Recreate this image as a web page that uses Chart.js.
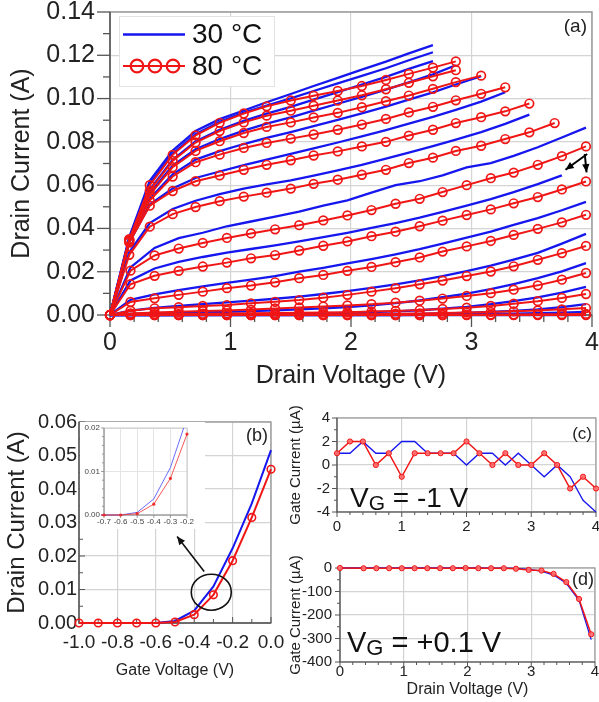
<!DOCTYPE html>
<html><head><meta charset="utf-8">
<script src="https://cdn.jsdelivr.net/npm/chart.js@4.4.1/dist/chart.umd.min.js"></script>
<style>
html,body{margin:0;padding:0;background:#fff;}
#wrap{position:relative;width:599px;height:702px;overflow:hidden;background:#fff;}
canvas{position:absolute;}
</style></head><body>
<div id="wrap">
<canvas id="ca" width="599" height="392" style="left:0;top:0"></canvas>
<canvas id="cb" width="300" height="310" style="left:0;top:392px"></canvas>
<canvas id="cc" width="319" height="145" style="left:280px;top:392px"></canvas>
<canvas id="cd" width="319" height="165" style="left:280px;top:537px"></canvas>
<canvas id="ci" width="125" height="107" style="left:80px;top:422px;background:#fff"></canvas>
</div>
<script>
// ---------------- DATA ----------------
// Panel (a): drain voltage grids (V)
const vdHigh = [0, 0.16, 0.33, 0.52, 0.71, 0.91, 1.11, 1.30, 1.50, 1.69, 1.89, 2.09, 2.29, 2.48, 2.68, 2.87, 3.08, 3.28, 3.48, 3.69];
const vdLow  = [0, 0.17, 0.37, 0.57, 0.77, 0.97, 1.17, 1.37, 1.57, 1.77, 1.97, 2.17, 2.37, 2.57, 2.76, 2.96, 3.16, 3.35, 3.55, 3.75, 3.95];
// 80 °C drain currents (A)
const red1 = [0, 0.0350, 0.0600, 0.0740, 0.0830, 0.0888, 0.0931, 0.0964, 0.0991, 0.1013, 0.1035, 0.1058, 0.1086, 0.1114, 0.1143, 0.1172];
const red2 = [0, 0.0348, 0.0575, 0.0712, 0.0797, 0.0850, 0.0890, 0.0921, 0.0944, 0.0967, 0.0991, 0.1015, 0.1043, 0.1073, 0.1103, 0.1131];
const red3 = [0, 0.0345, 0.0555, 0.0683, 0.0758, 0.0803, 0.0841, 0.0869, 0.0890, 0.0913, 0.0934, 0.0960, 0.0988, 0.1014, 0.1045, 0.1076, 0.1106];
const red4 = [0, 0.0340, 0.0530, 0.0640, 0.0706, 0.0741, 0.0772, 0.0795, 0.0815, 0.0834, 0.0856, 0.0880, 0.0906, 0.0936, 0.0962, 0.0992, 0.1022, 0.1052];
const red5 = [0, 0.0335, 0.0505, 0.0573, 0.0618, 0.0645, 0.0671, 0.0694, 0.0715, 0.0737, 0.0756, 0.0779, 0.0800, 0.0829, 0.0856, 0.0887, 0.0914, 0.0941, 0.0977];
const red6 = [0, 0.0278, 0.0408, 0.0466, 0.0499, 0.0526, 0.0547, 0.0565, 0.0584, 0.0606, 0.0625, 0.0648, 0.0671, 0.0702, 0.0727, 0.0758, 0.0782, 0.0813, 0.0844, 0.0887];
const red7 = [0, 0.0205, 0.0275, 0.0307, 0.0333, 0.0356, 0.0377, 0.0396, 0.0415, 0.0437, 0.0460, 0.0485, 0.0514, 0.0537, 0.0568, 0.0600, 0.0632, 0.0658, 0.0694, 0.0734, 0.0779];
const red8 = [0, 0.0142, 0.0181, 0.0204, 0.0224, 0.0242, 0.0262, 0.0277, 0.0298, 0.0320, 0.0340, 0.0364, 0.0385, 0.0410, 0.0436, 0.0462, 0.0488, 0.0516, 0.0545, 0.0580, 0.0617];
const red9 = [0, 0.0060, 0.0077, 0.0093, 0.0108, 0.0124, 0.0136, 0.0151, 0.0170, 0.0185, 0.0204, 0.0222, 0.0244, 0.0266, 0.0293, 0.0317, 0.0342, 0.0370, 0.0398, 0.0428, 0.0463];
const red10 = [0, 0.0020, 0.0031, 0.0036, 0.0042, 0.0046, 0.0054, 0.0061, 0.0069, 0.0080, 0.0093, 0.0108, 0.0124, 0.0142, 0.0159, 0.0180, 0.0201, 0.0225, 0.0255, 0.0286, 0.0319];
const red11 = [0, 0.0007, 0.0012, 0.0015, 0.0018, 0.0021, 0.0025, 0.0030, 0.0035, 0.0039, 0.0044, 0.0050, 0.0057, 0.0066, 0.0076, 0.0088, 0.0101, 0.0117, 0.0137, 0.0163, 0.0194];
const red12 = [0, 0.0002, 0.0004, 0.0005, 0.0006, 0.0007, 0.0008, 0.0009, 0.0010, 0.0012, 0.0013, 0.0016, 0.0019, 0.0023, 0.0028, 0.0034, 0.0042, 0.0052, 0.0064, 0.0079, 0.0097];
const red13 = [0, 0.0001, 0.0001, 0.0001, 0.0001, 0.0002, 0.0002, 0.0002, 0.0003, 0.0003, 0.0004, 0.0005, 0.0006, 0.0007, 0.0009, 0.0011, 0.0014, 0.0017, 0.0021, 0.0026, 0.0032];
const red14 = [0, 0, 0, 0, 0, 0, 0, 0, 0, 0, 0, 0, 0, 0, 0, 0.0001, 0.0002, 0.0002, 0.0003, 0.0004, 0.0005];
const red15 = [0, 0, 0, 0, 0, 0, 0, 0, 0, 0, 0, 0, 0, 0, 0, 0, 0, 0, 0, 0, 0];
// 30 °C drain currents (A)
const blue1 = [0, 0.0360, 0.0620, 0.0760, 0.0850, 0.0905, 0.0945, 0.0983, 0.1021, 0.1058, 0.1096, 0.1134, 0.1171, 0.1209, 0.1247];
const blue2 = [0, 0.0355, 0.0605, 0.0745, 0.0835, 0.0893, 0.0935, 0.0968, 0.1001, 0.1035, 0.1070, 0.1105, 0.1140, 0.1177, 0.1214];
const blue3 = [0, 0.0350, 0.0580, 0.0717, 0.0802, 0.0856, 0.0897, 0.0930, 0.0962, 0.0995, 0.1030, 0.1065, 0.1100, 0.1137, 0.1173];
const blue4 = [0, 0.0345, 0.0562, 0.0690, 0.0766, 0.0813, 0.0852, 0.0884, 0.0913, 0.0944, 0.0976, 0.1008, 0.1041, 0.1075, 0.1112, 0.1154];
const blue5 = [0, 0.0340, 0.0538, 0.0650, 0.0718, 0.0757, 0.0790, 0.0818, 0.0845, 0.0873, 0.0902, 0.0932, 0.0963, 0.0995, 0.1029, 0.1065, 0.1103];
const blue6 = [0, 0.0335, 0.0510, 0.0585, 0.0633, 0.0663, 0.0692, 0.0718, 0.0744, 0.0770, 0.0797, 0.0825, 0.0854, 0.0884, 0.0915, 0.0948, 0.0986, 0.1029];
const blue7 = [0, 0.0290, 0.0425, 0.0490, 0.0528, 0.0558, 0.0584, 0.0604, 0.0622, 0.0644, 0.0668, 0.0694, 0.0722, 0.0750, 0.0780, 0.0810, 0.0845, 0.0883, 0.0926];
const blue8 = [0, 0.0220, 0.0310, 0.0355, 0.0380, 0.0410, 0.0432, 0.0455, 0.0478, 0.0505, 0.0530, 0.0565, 0.0600, 0.0618, 0.0645, 0.0682, 0.0702, 0.0735, 0.0775, 0.0820, 0.0866];
const blue9 = [0, 0.0160, 0.0215, 0.0245, 0.0268, 0.0288, 0.0305, 0.0322, 0.0340, 0.0360, 0.0380, 0.0402, 0.0425, 0.0450, 0.0477, 0.0505, 0.0535, 0.0568, 0.0605, 0.0645];
const blue10 = [0, 0.0070, 0.0095, 0.0115, 0.0132, 0.0148, 0.0163, 0.0180, 0.0200, 0.0218, 0.0238, 0.0258, 0.0280, 0.0304, 0.0330, 0.0358, 0.0385, 0.0416, 0.0448, 0.0484, 0.0523];
const blue11 = [0, 0.0020, 0.0033, 0.0042, 0.0050, 0.0058, 0.0066, 0.0075, 0.0085, 0.0097, 0.0110, 0.0125, 0.0142, 0.0160, 0.0180, 0.0203, 0.0228, 0.0256, 0.0287, 0.0330, 0.0375];
const blue12 = [0, 0.0005, 0.0008, 0.0010, 0.0012, 0.0015, 0.0018, 0.0022, 0.0026, 0.0031, 0.0037, 0.0045, 0.0055, 0.0067, 0.0082, 0.0099, 0.0119, 0.0143, 0.0170, 0.0202, 0.0240];
const blue13 = [0, 0.0001, 0.0002, 0.0002, 0.0003, 0.0003, 0.0004, 0.0005, 0.0006, 0.0008, 0.0010, 0.0013, 0.0017, 0.0022, 0.0029, 0.0038, 0.0050, 0.0064, 0.0081, 0.0103, 0.0130];
const blue14 = [0, 0, 0, 0, 0.0001, 0.0001, 0.0001, 0.0001, 0.0001, 0.0002, 0.0002, 0.0003, 0.0004, 0.0005, 0.0007, 0.0010, 0.0014, 0.0019, 0.0026, 0.0036, 0.0050];
const blue15 = [0, 0, 0, 0, 0, 0, 0, 0, 0, 0, 0, 0, 0, 0.0001, 0.0002, 0.0003, 0.0004, 0.0006, 0.0008, 0.0011, 0.0014];
const blue16 = [0, 0, 0, 0, 0, 0, 0, 0, 0, 0, 0, 0, 0, 0, 0, 0, 0, 0, 0, 0, 0];
const legendLabels = ['30 °C', '80 °C'];
// annotation arrows in panel (a): [x1, y1, x2, y2] in data units
const arrowsA = [[3.96, 0.0744, 3.78, 0.0671], [3.94, 0.0744, 3.955, 0.0659]];

// Panel (b): transfer curve
const vgB = [-1.0, -0.9, -0.8, -0.7, -0.6, -0.5, -0.4, -0.3, -0.2, -0.1, 0.0];
const blueB = [0, 0, 0, 0, 0, 0.0006, 0.0037, 0.0109, 0.0223, 0.0357, 0.0516];
const redB  = [0, 0, 0, 0, 0, 0.0003, 0.0025, 0.0084, 0.0186, 0.0315, 0.0459];
const circleB = [-0.311, 0.0092];
const arrowB = [-0.348, 0.0154, -0.489, 0.0258];

// Panel (c): gate current at VG = -1 V (µA)
const vdC = [0, 0.2, 0.4, 0.6, 0.8, 1.0, 1.2, 1.4, 1.6, 1.8, 2.0, 2.2, 2.4, 2.6, 2.8, 3.0, 3.2, 3.4, 3.6, 3.8, 4.0];
const redC  = [1, 2, 2, 0, 1, -1, 1, 1, 1, 1, 2, 1, 0, 1, 0, 0, 1, 0, -2, -1, -2];
const blueC = [1, 1, 2, 1, 1, 2, 2, 1, 1, 1, 0, 1, 1, 0, 1, 0, -1, 0, -1, -3, -4];

// Panel (d): gate current at VG = +0.1 V (µA)
const vdD = [0, 0.37, 0.57, 0.77, 0.97, 1.17, 1.37, 1.57, 1.77, 1.97, 2.17, 2.37, 2.57, 2.76, 2.96, 3.16, 3.35, 3.55, 3.75, 3.94];
const redD  = [0, -1, -1, -1, -1, -1, -1, -1, -1, 0, -1, -1, -1, -3, -8, -11, -25, -60, -132, -282];
const blueD = [0, 0, 0, 0, 0, 0, 0, 0, 0, 0, 0, -1, -1, -2, -6, -13, -30, -65, -138, -305];

// ---------------- STYLE / HELPERS ----------------
const FONT = "'Liberation Sans', Arial, Helvetica, sans-serif";
const INK = '#222';
const GRID = '#d4d4d4';
const FRAME = '#9c9c9c';
const AXIS = '#555';
const BLUE = 'rgb(22,22,238)';
const RED = 'rgb(240,22,22)';
Chart.defaults.font.family = FONT;
Chart.defaults.color = INK;

function pts(xs, ys) { return ys.map((y, i) => ({ x: xs[i], y: y })); }

function axis(o) {
  return {
    type: 'linear', position: o.pos, min: o.min, max: o.max,
    afterFit(s) {
      if (o.pos === 'left') s.width = o.size; else s.height = o.size;
      s.paddingLeft = 0; s.paddingRight = 0; s.paddingTop = 0; s.paddingBottom = 0;
    },
    ticks: {
      stepSize: o.step, autoSkip: false, maxRotation: 0, minRotation: 0,
      padding: o.pad, color: o.tickColor || INK,
      font: { family: FONT, size: o.font },
      callback: o.fmt
    },
    grid: { drawTicks: false, color: o.grid || GRID, lineWidth: o.gridWidth || 1.2 },
    border: { display: false },
    title: o.title ? {
      display: true, text: o.title, color: INK,
      font: { family: FONT, size: o.titleSize }, padding: o.titlePad
    } : { display: false }
  };
}

function frameTicks(cfg) {
  return {
    id: 'frameTicks',
    beforeDatasetsDraw(chart) {
      const ctx = chart.ctx, a = chart.chartArea;
      ctx.save();
      ctx.strokeStyle = cfg.frame; ctx.lineWidth = cfg.frameWidth;
      ctx.strokeRect(a.left, a.top, a.right - a.left, a.bottom - a.top);
      ctx.strokeStyle = cfg.axis; ctx.lineWidth = cfg.axisWidth;
      ctx.beginPath();
      ctx.moveTo(a.left, a.top); ctx.lineTo(a.left, a.bottom); ctx.lineTo(a.right, a.bottom);
      ctx.stroke();
      ctx.lineWidth = cfg.tickWidth || 1;
      ['x', 'y'].forEach(id => {
        const s = chart.scales[id], t = cfg[id];
        const n = Math.round((s.max - s.min) / t.minor);
        for (let i = 0; i <= n; i++) {
          const v = s.min + i * t.minor;
          const q = v / t.major;
          const major = Math.abs(q - Math.round(q)) < 1e-6;
          const len = major ? t.len : t.minorLen;
          ctx.beginPath();
          if (id === 'x') {
            const px = s.getPixelForValue(v);
            ctx.moveTo(px, a.bottom); ctx.lineTo(px, a.bottom + len);
          } else {
            const py = s.getPixelForValue(v);
            ctx.moveTo(a.left, py); ctx.lineTo(a.left - len, py);
          }
          ctx.stroke();
        }
      });
      ctx.restore();
    }
  };
}

function decor(fn) {
  return { id: 'decor', afterDraw(chart) { const c = chart.ctx; c.save(); fn(chart, c, chart.chartArea, chart.scales); c.restore(); } };
}

function arrow(ctx, x1, y1, x2, y2, head) {
  ctx.beginPath(); ctx.moveTo(x1, y1); ctx.lineTo(x2, y2); ctx.stroke();
  const ang = Math.atan2(y2 - y1, x2 - x1);
  ctx.beginPath();
  ctx.moveTo(x2, y2);
  ctx.lineTo(x2 - head * Math.cos(ang - 0.42), y2 - head * Math.sin(ang - 0.42));
  ctx.lineTo(x2 - head * Math.cos(ang + 0.42), y2 - head * Math.sin(ang + 0.42));
  ctx.closePath(); ctx.fill();
}

function subText(ctx, x, y, main, sub, rest, big, small, drop) {
  ctx.textAlign = 'left'; ctx.textBaseline = 'alphabetic'; ctx.fillStyle = '#111';
  ctx.font = big + 'px ' + FONT; ctx.fillText(main, x, y);
  let w = ctx.measureText(main).width;
  ctx.font = small + 'px ' + FONT; ctx.fillText(sub, x + w, y + drop);
  w += ctx.measureText(sub).width;
  ctx.font = big + 'px ' + FONT; ctx.fillText(rest, x + w, y);
}

const baseOpts = {
  responsive: false, animation: false, events: [],
  plugins: { legend: { display: false }, tooltip: { enabled: false } }
};

// ---------------- PANEL (a) ----------------
const redA = [[vdHigh, red1], [vdHigh, red2], [vdHigh, red3], [vdHigh, red4], [vdHigh, red5], [vdHigh, red6],
  [vdLow, red7], [vdLow, red8], [vdLow, red9], [vdLow, red10], [vdLow, red11], [vdLow, red12], [vdLow, red13], [vdLow, red14], [vdLow, red15]];
const blueA = [[vdHigh, blue1], [vdHigh, blue2], [vdHigh, blue3], [vdHigh, blue4], [vdHigh, blue5], [vdHigh, blue6], [vdHigh, blue7],
  [vdLow, blue8], [vdLow, blue9], [vdLow, blue10], [vdLow, blue11], [vdLow, blue12], [vdLow, blue13], [vdLow, blue14], [vdLow, blue15], [vdLow, blue16]];

const setsA = [];
redA.forEach(([xs, ys]) => setsA.push({
  data: pts(xs, ys), borderColor: RED, borderWidth: 2, tension: 0, clip: false,
  pointRadius: 4.3, pointBorderWidth: 1.7, pointBorderColor: RED, pointBackgroundColor: 'rgba(255,255,255,0)'
}));
blueA.forEach(([xs, ys]) => setsA.push({
  data: pts(xs, ys), borderColor: BLUE, borderWidth: 2.3, tension: 0, clip: false, pointRadius: 0
}));

new Chart(document.getElementById('ca'), {
  type: 'line',
  data: { datasets: setsA },
  options: Object.assign({}, baseOpts, {
    layout: { padding: { left: 0, top: 12, right: 7, bottom: 0 }, autoPadding: false },
    scales: {
      x: axis({ pos: 'bottom', min: 0, max: 4, step: 1, size: 77, pad: 13.5, font: 25,
        fmt: v => String(Math.round(v)), title: 'Drain Voltage (V)', titleSize: 25, titlePad: { top: 0, bottom: 1 } }),
      y: axis({ pos: 'left', min: 0, max: 0.14, step: 0.02, size: 110, pad: 15, font: 25,
        fmt: v => v.toFixed(2), title: 'Drain Current (A)', titleSize: 25, titlePad: { top: 7.5, bottom: 0 } })
    }
  }),
  plugins: [
    frameTicks({ frame: FRAME, frameWidth: 1.5, axis: AXIS, axisWidth: 1.5, tickWidth: 1.3,
      x: { major: 1, minor: 0.2, len: 12, minorLen: 7 }, y: { major: 0.02, minor: 0.01, len: 13, minorLen: 7 } }),
    decor((chart, ctx, a, s) => {
      ctx.fillStyle = INK; ctx.font = '19px ' + FONT; ctx.textAlign = 'right'; ctx.textBaseline = 'middle';
      ctx.fillText('(a)', a.right - 5, a.top + 14.5);
      ctx.strokeStyle = '#000'; ctx.fillStyle = '#000'; ctx.lineWidth = 2;
      arrowsA.forEach(([x1, y1, x2, y2]) => arrow(ctx, s.x.getPixelForValue(x1), s.y.getPixelForValue(y1),
        s.x.getPixelForValue(x2), s.y.getPixelForValue(y2), 9));
      // legend box
      const lx = a.left + 9, ly = a.top + 4;
      ctx.fillStyle = '#fff'; ctx.fillRect(lx, ly, 155, 70);
      ctx.strokeStyle = '#e2e2e2'; ctx.lineWidth = 1; ctx.strokeRect(lx + 0.5, ly + 0.5, 155, 70);
      ctx.strokeStyle = BLUE; ctx.lineWidth = 2.6;
      ctx.beginPath(); ctx.moveTo(lx + 4, ly + 18.5); ctx.lineTo(lx + 66, ly + 18.5); ctx.stroke();
      ctx.strokeStyle = RED; ctx.lineWidth = 2.2;
      ctx.beginPath(); ctx.moveTo(lx + 4, ly + 50); ctx.lineTo(lx + 66, ly + 50); ctx.stroke();
      [18, 36, 54].forEach(dx => { ctx.beginPath(); ctx.arc(lx + dx, ly + 50, 6.3, 0, Math.PI * 2); ctx.stroke(); });
      ctx.fillStyle = '#111'; ctx.font = '28px ' + FONT; ctx.textAlign = 'left'; ctx.textBaseline = 'middle';
      ctx.fillText(legendLabels[0], lx + 73, ly + 19);
      ctx.fillText(legendLabels[1], lx + 73, ly + 51);
    })
  ]
});

// ---------------- PANEL (b) ----------------
new Chart(document.getElementById('cb'), {
  type: 'line',
  data: { datasets: [
    { data: pts(vgB, redB), borderColor: RED, borderWidth: 2, tension: 0, clip: false,
      pointRadius: 3.8, pointBorderWidth: 1.6, pointBorderColor: RED, pointBackgroundColor: 'rgba(255,255,255,0)' },
    { data: pts(vgB, blueB), borderColor: BLUE, borderWidth: 2, tension: 0, clip: false, pointRadius: 0 }
  ] },
  options: Object.assign({}, baseOpts, {
    layout: { padding: { left: 0, top: 30, right: 29, bottom: 0 }, autoPadding: false },
    scales: {
      x: axis({ pos: 'bottom', min: -1, max: 0, step: 0.2, size: 79, pad: 8, font: 19,
        fmt: v => (Math.abs(v) < 1e-9 ? '0.0' : v.toFixed(1)), title: 'Gate Voltage (V)', titleSize: 16, titlePad: { top: 0, bottom: 22 } }),
      y: axis({ pos: 'left', min: 0, max: 0.06, step: 0.01, size: 79, pad: 2, font: 20,
        fmt: v => v.toFixed(2), title: 'Drain Current (A)', titleSize: 24, titlePad: { top: 3, bottom: 0 } })
    }
  }),
  plugins: [
    frameTicks({ frame: FRAME, frameWidth: 1.4, axis: AXIS, axisWidth: 1.4, tickWidth: 1,
      x: { major: 0.2, minor: 0.1, len: -6, minorLen: -4 }, y: { major: 0.01, minor: 0.005, len: -6, minorLen: -4 } }),
    decor((chart, ctx, a, s) => {
      ctx.fillStyle = INK; ctx.font = '18px ' + FONT; ctx.textAlign = 'right'; ctx.textBaseline = 'middle';
      ctx.fillText('(b)', a.right - 3, a.top + 14);
      ctx.strokeStyle = '#111'; ctx.fillStyle = '#111'; ctx.lineWidth = 1.6;
      ctx.beginPath();
      ctx.ellipse(s.x.getPixelForValue(circleB[0]), s.y.getPixelForValue(circleB[1]), 20, 18, 0, 0, Math.PI * 2);
      ctx.stroke();
      arrow(ctx, s.x.getPixelForValue(arrowB[0]), s.y.getPixelForValue(arrowB[1]),
        s.x.getPixelForValue(arrowB[2]), s.y.getPixelForValue(arrowB[3]), 9);
    })
  ]
});

// ---------------- INSET of (b) ----------------
new Chart(document.getElementById('ci'), {
  type: 'line',
  data: { datasets: [
    { data: pts(vgB, redB), borderColor: 'rgba(245,60,60,0.85)', borderWidth: 1, tension: 0,
      clip: { left: 3, top: 0, right: 3, bottom: 3 },
      pointRadius: 1.6, pointBorderWidth: 0, pointBackgroundColor: 'rgba(240,30,30,0.9)' },
    { data: pts(vgB, blueB), borderColor: 'rgba(70,70,250,0.8)', borderWidth: 1, tension: 0,
      clip: { left: 3, top: 0, right: 3, bottom: 3 }, pointRadius: 0 }
  ] },
  options: Object.assign({}, baseOpts, {
    layout: { padding: { left: 0, top: 6, right: 18, bottom: 0 }, autoPadding: false },
    scales: {
      x: axis({ pos: 'bottom', min: -0.7, max: -0.2, step: 0.1, size: 14, pad: 1.5, font: 8, tickColor: '#444',
        fmt: v => v.toFixed(1), grid: '#e4e4e4', gridWidth: 1 }),
      y: axis({ pos: 'left', min: 0, max: 0.02, step: 0.01, size: 24, pad: 4, font: 8, tickColor: '#444',
        fmt: v => v.toFixed(2), grid: '#e4e4e4', gridWidth: 1 })
    }
  }),
  plugins: [
    frameTicks({ frame: '#c8c8c8', frameWidth: 1, axis: '#888', axisWidth: 1, tickWidth: 0.8,
      x: { major: 0.1, minor: 0.05, len: 3, minorLen: 0 }, y: { major: 0.01, minor: 0.002, len: 3, minorLen: 2 } })
  ]
});

// ---------------- PANEL (c) ----------------
new Chart(document.getElementById('cc'), {
  type: 'line',
  data: { datasets: [
    { data: pts(vdC, redC), borderColor: RED, borderWidth: 1.5, tension: 0, clip: false,
      pointRadius: 2.6, pointBorderWidth: 1, pointBorderColor: RED, pointBackgroundColor: 'rgba(255,110,110,0.9)' },
    { data: pts(vdC, blueC), borderColor: BLUE, borderWidth: 1.3, tension: 0, clip: false, pointRadius: 0 }
  ] },
  options: Object.assign({}, baseOpts, {
    layout: { padding: { left: 0, top: 26, right: 3, bottom: 0 }, autoPadding: false },
    scales: {
      x: axis({ pos: 'bottom', min: 0, max: 4, step: 1, size: 25, pad: 6, font: 15,
        fmt: v => String(Math.round(v)) }),
      y: axis({ pos: 'left', min: -4, max: 4, step: 2, size: 57, pad: 7, font: 15,
        fmt: v => String(Math.round(v)), title: 'Gate Current (µA)', titleSize: 15, titlePad: { top: 7, bottom: 0 } })
    }
  }),
  plugins: [
    frameTicks({ frame: FRAME, frameWidth: 1.2, axis: AXIS, axisWidth: 1.2, tickWidth: 1,
      x: { major: 1, minor: 0.2, len: 5, minorLen: 3 }, y: { major: 2, minor: 1, len: 5, minorLen: 3 } }),
    decor((chart, ctx, a) => {
      ctx.fillStyle = INK; ctx.font = '17px ' + FONT; ctx.textAlign = 'right'; ctx.textBaseline = 'middle';
      ctx.fillText('(c)', a.right - 4, a.top + 16);
      subText(ctx, a.left + 13, a.bottom - 5.3, 'V', 'G', ' = -1 V', 28, 21, 3);
    })
  ]
});

// ---------------- PANEL (d) ----------------
new Chart(document.getElementById('cd'), {
  type: 'line',
  data: { datasets: [
    { data: pts(vdD, redD), borderColor: RED, borderWidth: 1.5, tension: 0, clip: false,
      pointRadius: 2.6, pointBorderWidth: 1, pointBorderColor: RED, pointBackgroundColor: 'rgba(255,110,110,0.9)' },
    { data: pts(vdD, blueD), borderColor: BLUE, borderWidth: 1.3, tension: 0, clip: false, pointRadius: 0 }
  ] },
  options: Object.assign({}, baseOpts, {
    layout: { padding: { left: 0, top: 31, right: 4, bottom: 0 }, autoPadding: false },
    scales: {
      x: axis({ pos: 'bottom', min: 0, max: 4, step: 1, size: 40, pad: 1, font: 15,
        fmt: v => String(Math.round(v)), title: 'Drain Voltage (V)', titleSize: 16, titlePad: { top: 0, bottom: 2.4 } }),
      y: axis({ pos: 'left', min: -400, max: 0, step: 100, size: 60, pad: 8, font: 15,
        fmt: v => String(Math.round(v)), title: 'Gate Current (µA)', titleSize: 15, titlePad: { top: 7, bottom: 0 } })
    }
  }),
  plugins: [
    frameTicks({ frame: FRAME, frameWidth: 1.2, axis: AXIS, axisWidth: 1.2, tickWidth: 1,
      x: { major: 1, minor: 0.2, len: 5, minorLen: 3 }, y: { major: 100, minor: 50, len: 5, minorLen: 3 } }),
    decor((chart, ctx, a) => {
      ctx.fillStyle = INK; ctx.font = '18px ' + FONT; ctx.textAlign = 'right'; ctx.textBaseline = 'middle';
      ctx.fillText('(d)', a.right - 1, a.top + 12);
      subText(ctx, a.left + 7, a.bottom - 10, 'V', 'G', ' = +0.1 V', 29, 22, 3.3);
    })
  ]
});
</script>
</body></html>
